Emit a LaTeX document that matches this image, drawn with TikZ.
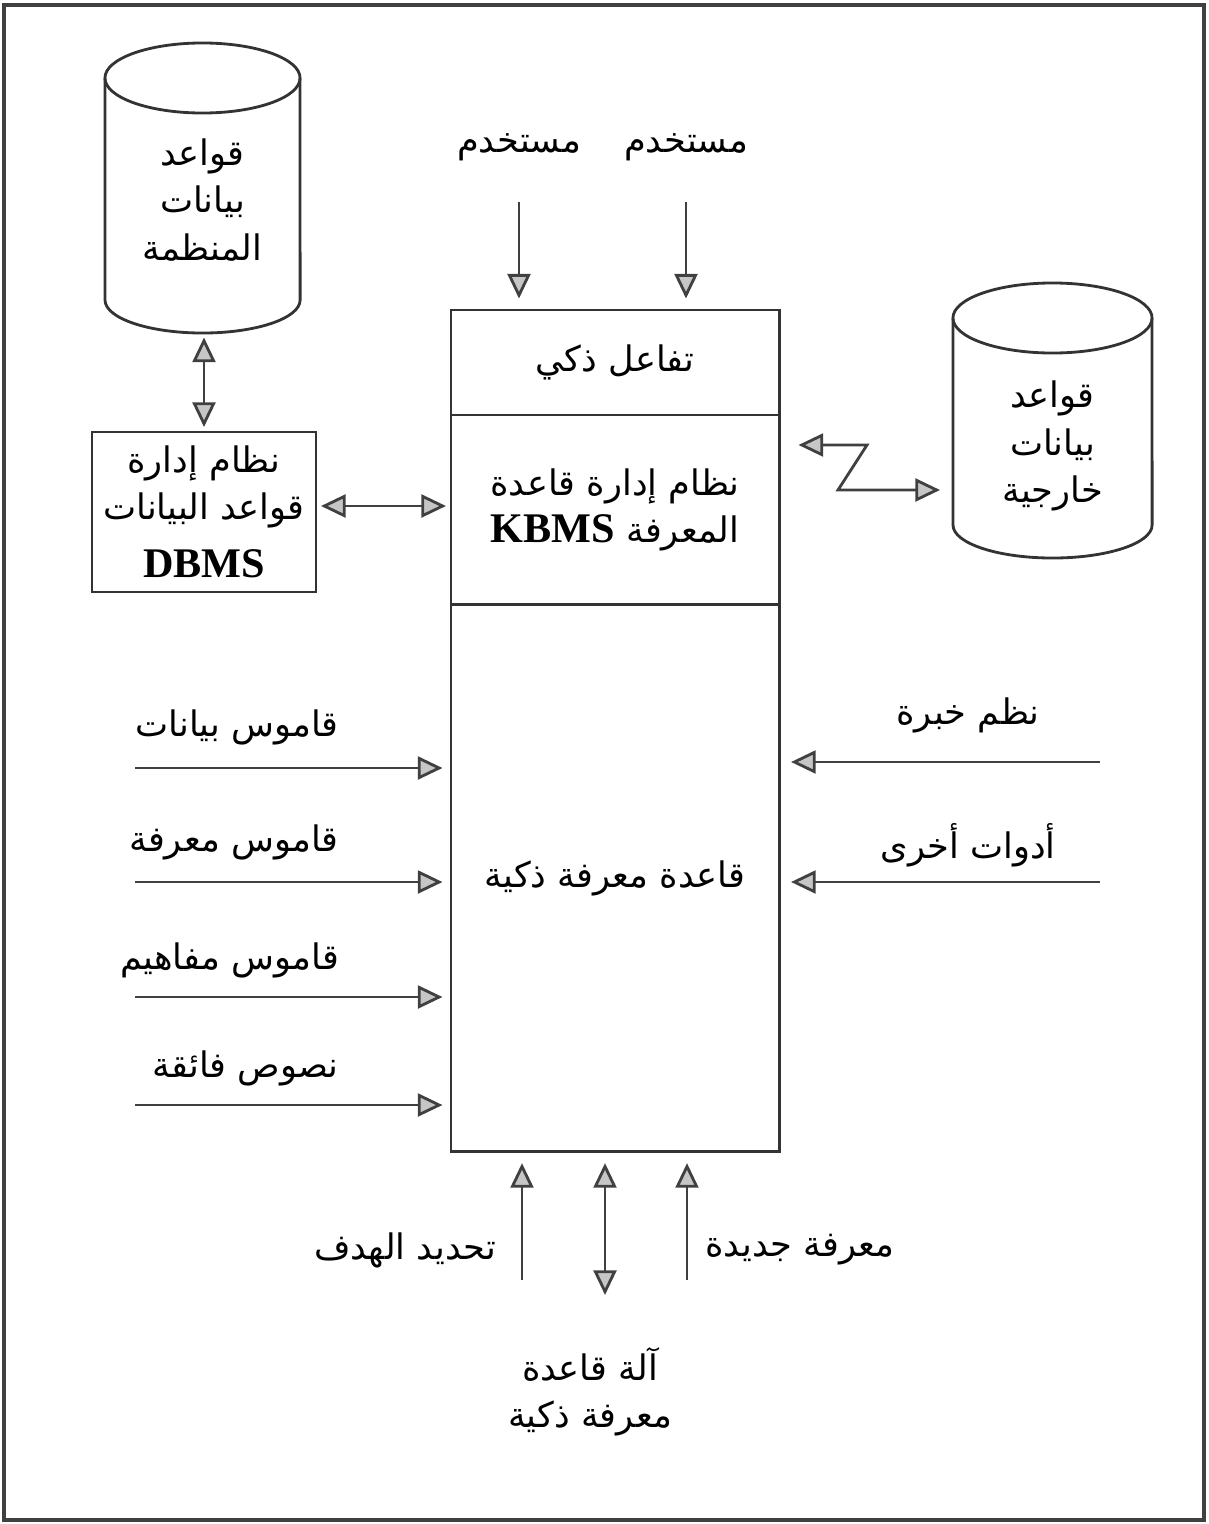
\documentclass[tikz,border=0pt]{standalone}
\usepackage{fontspec}
\setmainfont{Liberation Serif}
\newfontfamily\arabicfont[Script=Arabic]{DejaVu Sans}
\TeXXeTstate=1
\usetikzlibrary{arrows.meta}
\newcommand{\artxt}[1]{{\arabicfont\beginR #1\endR}}
\newcommand{\latbf}[1]{{\rmfamily\bfseries\fontsize{12}{14}\selectfont #1}}

\tikzset{
  box/.style={draw=black!80,thick,minimum width=3.28cm,inner sep=0pt,align=center,font=\fontsize{10}{13.5}\selectfont},
  lbl/.style={align=center,inner sep=1pt,font=\fontsize{10}{13.5}\selectfont},
  cyl/.style={draw=black!80,thick},
  arr/.style={-{Triangle[length=7pt,width=6.5pt,fill=gray!45]},draw=black!75,thick},
  dbl/.style={{Triangle[length=7pt,width=6.5pt,fill=gray!45]}-{Triangle[length=7pt,width=6.5pt,fill=gray!45]},draw=black!75,thick},
}

\begin{document}
\begin{tikzpicture}[x=0.01cm,y=-0.01cm]
\useasboundingbox (0,0) rectangle (1208,1524);
% Frame
\draw[black!75,line width=1.4pt] (4,5) rectangle (1204,1520);
% Organisation databases
\draw[cyl] (105,78) -- (105,300) arc[start angle=180,end angle=360,x radius=0.975cm,y radius=0.33cm] -- (300,78);
\draw[cyl] (202.5,78) ellipse[x radius=0.975cm,y radius=0.35cm];
\node[lbl] (orgdb) at (202.5,200) {\artxt{قواعد}\\\artxt{بيانات}\\\artxt{المنظمة}};
\coordinate (orgbot) at (204,334);
% External databases
\draw[cyl] (953,318) -- (953,525) arc[start angle=180,end angle=360,x radius=0.995cm,y radius=0.33cm] -- (1152,318);
\draw[cyl] (1052.5,318) ellipse[x radius=0.995cm,y radius=0.35cm];
\node[lbl] (extdb) at (1052.5,446) {\artxt{قواعد}\\\artxt{بيانات}\\\artxt{خارجية}};
\coordinate (extwest) at (953,490);
% Central system
\node[box,minimum height=1.05cm] (ui) at (615,362.5) {\artxt{تفاعل ذكي}};
\node[box,minimum height=1.90cm] (kbms) at (615,510) {\artxt{نظام إدارة قاعدة}\\\artxt{المعرفة \beginL\latbf{KBMS}\endL}};
\node[box,minimum height=5.46cm] (kb) at (615,878) {\artxt{قاعدة معرفة ذكية}};
% DBMS
\node[box,minimum width=2.24cm,minimum height=1.60cm] (dbms) at (204,512) {\artxt{نظام إدارة}\\\artxt{قواعد البيانات}\\[3pt]\latbf{DBMS}};
% Users
\node[lbl] (usr1) at (519,147) {\artxt{مستخدم}};
\node[lbl] (usr2) at (686,147) {\artxt{مستخدم}};
\draw[arr,shorten <=0.37cm,shorten >=0.1cm] (usr1.south) -- (usr1.south |- ui.north);
\draw[arr,shorten <=0.37cm,shorten >=0.1cm] (usr2.south) -- (usr2.south |- ui.north);
% Database links
\draw[dbl,shorten <=1pt,shorten >=1pt] (orgbot) -- (dbms.north);
\draw[dbl,shorten <=1pt,shorten >=1pt] (dbms.east |- 0,506) -- (kbms.west |- 0,506);
\coordinate (zA) at (867,445);
\coordinate (zB) at (838,490);
\draw[dbl,shorten <=0.18cm,shorten >=0.13cm] (kbms.east |- zA) -- (zA) -- (zB) -- (extwest);
% Left inputs
\node[lbl,anchor=east] (dd) at (343,727) {\artxt{قاموس بيانات}};
\node[lbl,anchor=east] (kd) at (343,842) {\artxt{قاموس معرفة}};
\node[lbl,anchor=east] (cd) at (343,960) {\artxt{قاموس مفاهيم}};
\node[lbl,anchor=east] (ht) at (343,1068) {\artxt{نصوص فائقة}};
\coordinate (ddA) at (135,768);
\coordinate (kdA) at (135,882);
\coordinate (cdA) at (135,997);
\coordinate (htA) at (135,1105);
\draw[arr,shorten >=2pt] (ddA) -- (ddA -| kb.west);
\draw[arr,shorten >=2pt] (kdA) -- (kdA -| kb.west);
\draw[arr,shorten >=2pt] (cdA) -- (cdA -| kb.west);
\draw[arr,shorten >=2pt] (htA) -- (htA -| kb.west);
% Right inputs
\node[lbl] (es) at (968,715) {\artxt{نظم خبرة}};
\node[lbl] (ot) at (968,845) {\artxt{أدوات أخرى}};
\coordinate (esA) at (1100,762);
\coordinate (otA) at (1100,882);
\draw[arr,shorten >=3pt] (esA) -- (esA -| kb.east);
\draw[arr,shorten >=3pt] (otA) -- (otA -| kb.east);
% Bottom
\node[lbl] (goal) at (405,1250) {\artxt{تحديد الهدف}};
\node[lbl] (newk) at (800,1250) {\artxt{معرفة جديدة}};
\node[lbl] (machine) at (590,1392) {\artxt{آلة قاعدة}\\\artxt{معرفة ذكية}};
\coordinate (gtail) at (522,1280);
\coordinate (mtail) at (605,1295);
\coordinate (ntail) at (687,1280);
\draw[arr,shorten >=3pt] (gtail) -- (gtail |- kb.south);
\draw[dbl,shorten <=3pt] (mtail |- kb.south) -- (mtail);
\draw[arr,shorten >=3pt] (ntail) -- (ntail |- kb.south);
\end{tikzpicture}
\end{document}
